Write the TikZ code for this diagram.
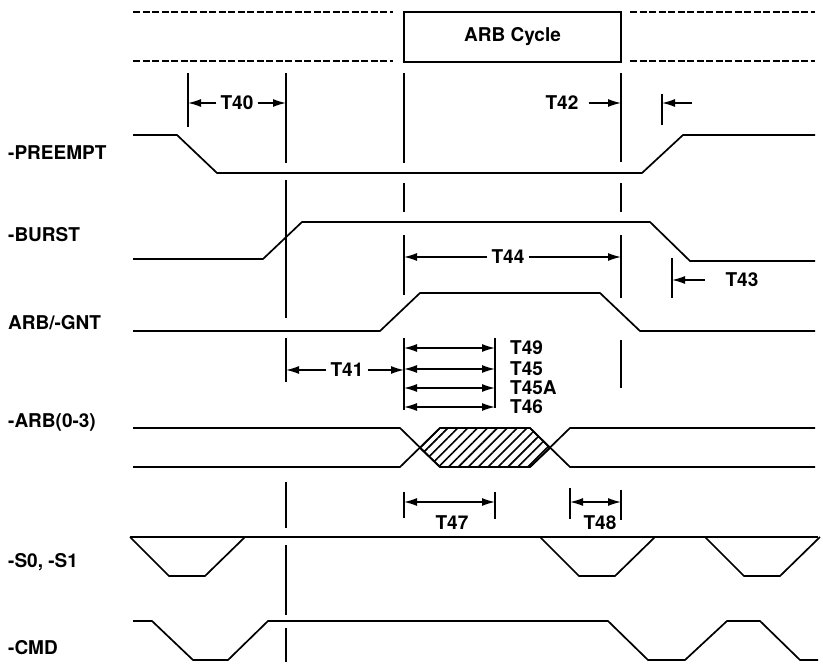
\documentclass[tikz,border=0pt]{standalone}
\usepackage{fontspec}
\setmainfont{TeX Gyre Heros}
\usetikzlibrary{positioning,arrows.meta,patterns.meta}
\tikzset{
	signal/.style  = {line width=1.7pt, line join=miter},
	marker/.style  = {line width=1.4pt},
	dim/.style     = {line width=1.4pt, >={Latex[length=13pt,width=8pt]}},
	frame/.style   = {line width=1.3pt, dash pattern=on 7pt off 2.5pt},
	siglabel/.style = {anchor=west, inner sep=0pt, font=\bfseries\fontsize{19}{19}\selectfont},
	tlabel/.style  = {inner sep=4pt, font=\bfseries\fontsize{19}{19}\selectfont},
	stack/.style   = {tlabel, anchor=west, inner sep=1pt}
}
\begin{document}
\begin{tikzpicture}[x=1pt, y=-1pt]
	\useasboundingbox (0,0) rectangle (823,668);
	
	% the cycle bar on top
	\draw[frame] (133,12) -- (393,12) (133,61) -- (393,61);
	\draw[frame] (630,12) -- (815,12) (630,61) -- (815,61);
	\node[draw, line width=1.3pt, minimum width=217pt, minimum height=50pt,
		tlabel] (cyc) at (512.5,37) {ARB Cycle};
	
	% signal names
	\node[siglabel] (preempt) at (8,153) {-PREEMPT};
	\node[siglabel] (burst)   at (8,235) {-BURST};
	\node[siglabel] (gnt)     at (8,323) {ARB/-GNT};
	\node[siglabel] (arb)     at (8,422) {-ARB(0-3)};
	\node[siglabel] (ss)      at (8,562) {-S0, -S1};
	\node[siglabel] (cmd)     at (8,648) {-CMD};
	
	% waveforms
	\draw[signal] (133,135) -- (177,135) -- (217,173) -- (642,173) -- (683,135) -- (815,135);
	\draw[signal] (133,259) -- (263,259) -- (302,222) -- (650,222) -- (690,261) -- (815,261);
	\draw[signal] (133,331) -- (380,331) -- (420,293) -- (600,293) -- (640,331) -- (815,331);
	\draw[signal, pattern={Lines[angle=45, distance=7pt, line width=1.6pt]}]
		(420,448) -- (440,428) -- (530,428) -- (550,448) -- (530,467) -- (440,467) -- cycle;
	\draw[signal] (133,428) -- (400,428) -- (440,467) (133,467) -- (400,467) -- (440,428);
	\draw[signal] (530,428) -- (570,467) -- (815,467) (530,467) -- (570,428) -- (815,428);
	\draw[signal] (130,537) -- (818,537);
	\foreach \xa in {130,540,705}
		\draw[signal] (\xa,537) -- ++(39,39) -- ++(36,0) -- ++(40,-39);
	\draw[signal] (133,621) -- (152,621) -- (193,660) -- (228,660) -- (268,621) -- (608,621)
		-- (648,660) -- (685,660) -- (727,621) -- (760,621) -- (800,660) -- (818,660);
	
	% timing markers
	\coordinate (m40) at (188,0);
	\coordinate (ma)  at (286,0);
	\coordinate (mb)  at (404,0);
	\coordinate (mc)  at (621,0);
	\coordinate (md)  at (662,0);
	\coordinate (m43) at (672,0);
	\coordinate (me)  at (495,0);
	\coordinate (mf)  at (570,0);
	\draw[marker] (188,73) -- (188,127);
	\foreach \ya/\yb in {73/163,180/318,338/382,482/528,545/615,628/662}
		\draw[marker] (286,\ya) -- (286,\yb);
	\foreach \ya/\yb in {73/163,183/212,235/295,338/410,492/518}
		\draw[marker] (404,\ya) -- (404,\yb);
	\foreach \ya/\yb in {73/162,183/212,235/298,340/388,490/520}
		\draw[marker] (621,\ya) -- (621,\yb);
	\draw[marker] (662,94) -- (662,125);
	\draw[marker] (672,258) -- (672,298);
	\draw[marker] (495,338) -- (495,408);
	\draw[marker] (495,492) -- (495,519);
	\draw[marker] (570,488) -- (570,519);
	
	% time labels
	\node[tlabel] (T40) at (237,103) {T40};
	\node[tlabel] (T42) at (562,103) {T42};
	\node[tlabel] (T44) at (508,257) {T44};
	\node[tlabel] (T43) at (742,280) {T43};
	\node[tlabel] (T41) at (347,370) {T41};
	\node[stack]  (T49) at (509,348) {T49};
	\node[stack]  (T45) at (509,369) {T45};
	\node[stack]  (T45A) at (509,388) {T45A};
	\node[stack]  (T46) at (509,407) {T46};
	\node[tlabel] (T47) at (452,523) {T47};
	\node[tlabel] (T48) at (600,523) {T48};
	
	% dimension arrows
	\draw[dim,->] (T40.west) -- (m40 |- T40.west);
	\draw[dim,->] (T40.east) -- (ma |- T40.east);
	\draw[dim,->] ([xshift=-8pt]T42.east) ++(14,0) -- (mc |- T42.east);
	\draw[dim,->] (692,103) -- (md |- T42.east);
	\draw[dim,->] (T44.west) -- (mb |- T44.west);
	\draw[dim,->] (T44.east) -- (mc |- T44.east);
	\draw[dim,->] (705,280) -- (m43 |- T43.west);
	\draw[dim,->] (T41.west) -- (ma |- T41.west);
	\draw[dim,->] (T41.east) -- (mb |- T41.east);
	\foreach \t in {T49,T45,T45A,T46}
		\draw[dim,<->] (mb |- \t.west) -- (me |- \t.west);
	\draw[dim,<->] (404,502) -- (495,502);
	\draw[dim,<->] (570,502) -- (621,502);
\end{tikzpicture}
\end{document}
